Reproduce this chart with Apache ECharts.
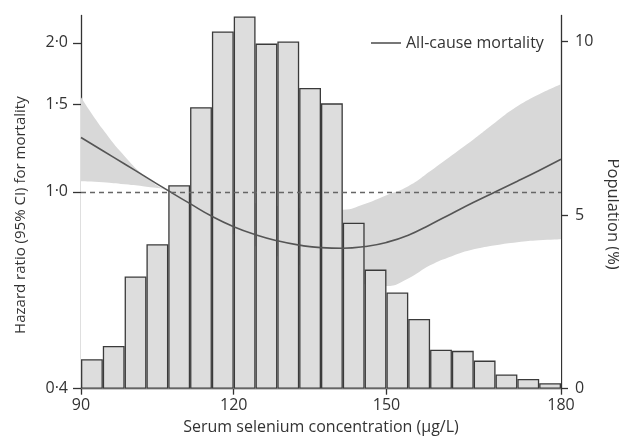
<!DOCTYPE html>
<html>
<head>
<meta charset="utf-8">
<script src="https://cdn.jsdelivr.net/npm/echarts@6/dist/echarts.min.js"></script>
<style>
  html, body { margin: 0; padding: 0; background: #fff; }
  #main { width: 619px; height: 442px; }
</style>
</head>
<body>
<div id="main"></div>
<script>
// histogram bins (22 bins between 90 and 180 ug/L)
const bins = [0, 1, 2, 3, 4, 5, 6, 7, 8, 9, 10, 11, 12, 13, 14, 15, 16, 17, 18, 19, 20, 21];
const population = [0.85, 1.23, 3.23, 4.16, 5.86, 8.11, 10.29, 10.72, 9.94, 10.0, 8.66,
                    8.22, 4.78, 3.43, 2.77, 2.01, 1.12, 1.09, 0.81, 0.41, 0.28, 0.16];

// hazard ratio curve, sampled at bin edges
const curveX = [0, 1, 2, 3, 4, 5, 6, 7, 8, 9, 10, 11, 12, 13, 14, 15, 16, 17, 18, 19, 20, 21, 22];
const hr      = [1.287, 1.210, 1.138, 1.069, 1.005, 0.946, 0.892, 0.850, 0.819, 0.796, 0.780, 0.771,
                 0.769, 0.775, 0.790, 0.817, 0.858, 0.904, 0.952, 1.000, 1.050, 1.104, 1.163];
const hrUpper = [1.552, 1.337, 1.180, 1.070, 1.005, 0.988, 0.975, 0.961, 0.948, 0.936, 0.926, 0.919,
                 0.920, 0.945, 0.984, 1.026, 1.100, 1.185, 1.277, 1.382, 1.488, 1.574, 1.649];
const hrLower = [1.050, 1.045, 1.035, 1.023, 1.003, 0.930, 0.872, 0.821, 0.776, 0.741, 0.711, 0.684,
                 0.666, 0.650, 0.645, 0.668, 0.710, 0.741, 0.765, 0.780, 0.791, 0.798, 0.802];

// axis ticks
const xTickPos = [0, 7, 14, 22];
const xTickLabels = ['90', '120', '150', '180'];
const hrTicks = [0.4, 1.0, 1.5, 2.0];
const popTicks = [0, 5, 10];

const FONT = 'Open Sans';
const ln = v => Math.log(v);
const AXIS = { color: '#333', width: 1.3 };

const chart = echarts.init(document.getElementById('main'));

const option = {
  animation: false,
  backgroundColor: '#fff',
  textStyle: { fontFamily: FONT },
  grid: { left: 81, right: 58, top: 15.5, bottom: 53.3, outerBoundsMode: 'none' },
  legend: {
    data: [{ name: 'All-cause mortality', icon: 'rect' }],
    left: 366,
    top: 30,
    itemWidth: 30,
    itemHeight: 1.6,
    textStyle: { fontFamily: FONT, fontSize: 16, color: '#333' }
  },
  xAxis: [
    {
      type: 'category',
      data: bins,
      show: false,
      position: 'bottom',
      boundaryGap: true
    },
    {
      type: 'value',
      position: 'bottom',
      min: 0,
      max: 22,
      name: 'Serum selenium concentration (µg/L)',
      nameLocation: 'middle',
      nameGap: 31,
      nameTextStyle: { fontFamily: FONT, fontSize: 16, color: '#333' },
      axisLine: { show: true, onZero: false, lineStyle: AXIS },
      axisTick: { show: true, length: 6, customValues: xTickPos, lineStyle: AXIS },
      axisLabel: {
        customValues: xTickPos,
        margin: 9,
        fontFamily: FONT, fontSize: 16, color: '#333',
        formatter: v => xTickLabels[xTickPos.indexOf(v)]
      },
      splitLine: { show: false }
    }
  ],
  yAxis: [
    {
      type: 'value',
      position: 'left',
      min: ln(0.4),
      max: 0.82,
      name: 'Hazard ratio (95% CI) for mortality',
      nameLocation: 'middle',
      nameRotate: 90,
      nameGap: 53,
      nameTextStyle: { fontFamily: FONT, fontSize: 15, color: '#333', padding: [0, 26, 0, 0] },
      axisLine: { show: true, onZero: false, lineStyle: AXIS },
      axisTick: { show: true, length: 8, customValues: hrTicks.map(ln), lineStyle: AXIS },
      axisLabel: {
        customValues: hrTicks.map(ln),
        margin: 13,
        fontFamily: FONT, fontSize: 16, color: '#333',
        formatter: v => Math.exp(v).toFixed(1).replace('.', '·')
      },
      splitLine: { show: false }
    },
    {
      type: 'value',
      position: 'right',
      min: 0,
      max: 10.75,
      name: 'Population (%)',
      nameLocation: 'middle',
      nameRotate: -90,
      nameGap: 42,
      nameTextStyle: { fontFamily: FONT, fontSize: 16.5, color: '#333', padding: [0, 0, 0, 24] },
      axisLine: { show: true, onZero: false, lineStyle: AXIS },
      axisTick: { show: true, length: 7, customValues: popTicks, lineStyle: AXIS },
      axisLabel: {
        customValues: popTicks,
        margin: 14,
        fontFamily: FONT, fontSize: 16, color: '#333'
      },
      splitLine: { show: false }
    }
  ],
  series: [
    {
      // upper bound of the CI, filled down to the axis
      name: 'ci-upper',
      type: 'line',
      xAxisIndex: 1,
      yAxisIndex: 0,
      smooth: 0.5,
      symbol: 'none',
      z: 1,
      silent: true,
      lineStyle: { opacity: 0 },
      areaStyle: { color: '#d8d8d8', opacity: 1, origin: 'start' },
      data: curveX.map((x, i) => [x, ln(hrUpper[i])])
    },
    {
      // lower bound, white fill cuts the band
      name: 'ci-lower',
      type: 'line',
      xAxisIndex: 1,
      yAxisIndex: 0,
      smooth: 0.5,
      symbol: 'none',
      z: 1,
      silent: true,
      lineStyle: { opacity: 0 },
      areaStyle: { color: '#ffffff', opacity: 1, origin: 'start' },
      data: curveX.map((x, i) => [x, ln(hrLower[i])])
    },
    {
      name: 'Population',
      type: 'bar',
      xAxisIndex: 0,
      yAxisIndex: 1,
      barCategoryGap: '0%',
      z: 2,
      itemStyle: { color: '#dddddd', borderColor: '#3a3a3a', borderWidth: 1.3 },
      data: population
    },
    {
      name: 'All-cause mortality',
      type: 'line',
      xAxisIndex: 1,
      yAxisIndex: 0,
      smooth: 0.5,
      symbol: 'none',
      z: 3,
      lineStyle: { color: '#555', width: 1.6 },
      itemStyle: { color: '#555' },
      data: curveX.map((x, i) => [x, ln(hr[i])]),
      markLine: {
        silent: true,
        symbol: 'none',
        label: { show: false },
        lineStyle: { color: '#666', width: 1.3, type: [5, 4] },
        data: [{ yAxis: 0 }]
      }
    }
  ]
};

chart.setOption(option);
</script>
</body>
</html>
